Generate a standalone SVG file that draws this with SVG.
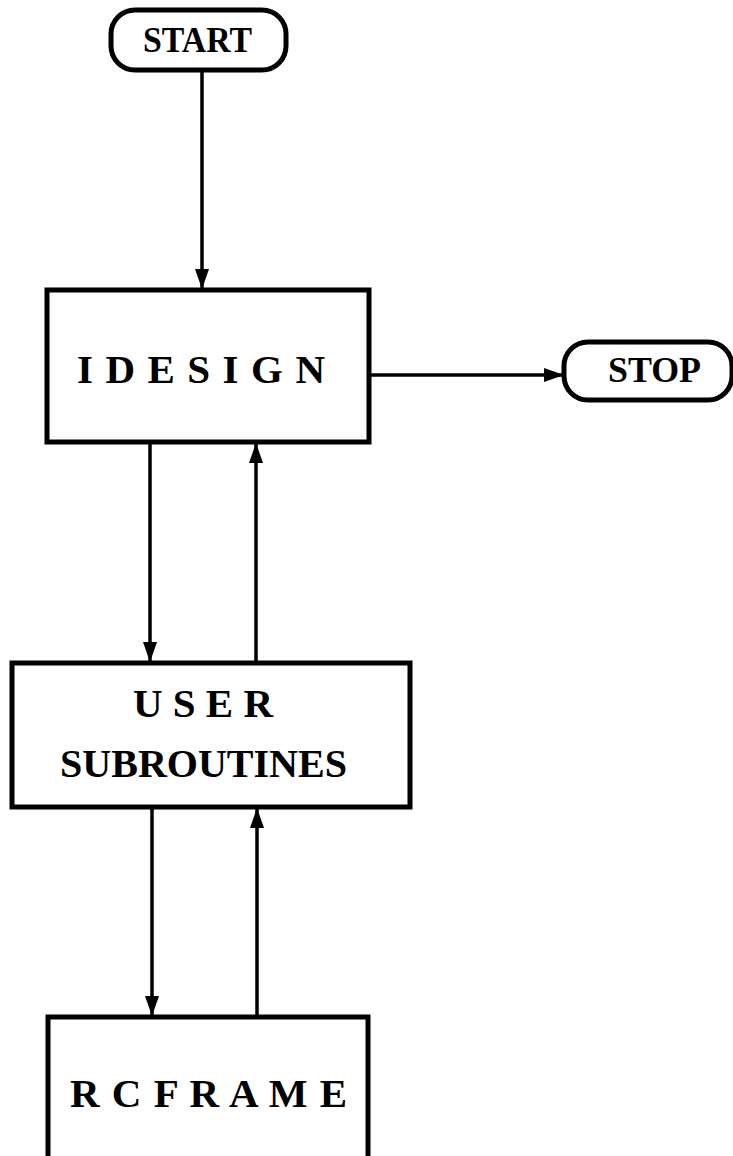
<svg xmlns="http://www.w3.org/2000/svg" width="733" height="1156" viewBox="0 0 733 1156">
<style>
  .box{fill:#fff;stroke:#000;stroke-width:5}
  .pill{fill:#fff;stroke:#000;stroke-width:5}
  .lbl{font-family:"Liberation Serif","Times New Roman",serif;font-weight:bold;fill:#000}
  .big{font-size:41px}
  .term{font-size:35px}
  .conn{stroke:#000;stroke-width:3.5;fill:none}
</style>
<defs>
  <marker id="ah" markerUnits="userSpaceOnUse" markerWidth="20" markerHeight="14" viewBox="0 0 20 14" refX="20" refY="7" orient="auto">
    <path d="M0,0 L20,7 L0,14 Z" fill="#000"/>
  </marker>
</defs>
<rect width="733" height="1156" fill="#fff"/>
<g id="connectors">
  <line class="conn" x1="202" y1="70" x2="202" y2="289" marker-end="url(#ah)"/>
  <line class="conn" x1="369" y1="375" x2="564" y2="375" marker-end="url(#ah)"/>
  <line class="conn" x1="150" y1="442" x2="150" y2="662" marker-end="url(#ah)"/>
  <line class="conn" x1="256" y1="663" x2="256" y2="443" marker-end="url(#ah)"/>
  <line class="conn" x1="152" y1="807" x2="152" y2="1016" marker-end="url(#ah)"/>
  <line class="conn" x1="257" y1="1017" x2="257" y2="808" marker-end="url(#ah)"/>
</g>
<g id="start">
  <rect class="pill" x="111" y="10" width="175" height="60" rx="24"/>
  <text class="lbl term" x="143" y="52" textLength="109" lengthAdjust="spacingAndGlyphs">START</text>
</g>
<g id="idesign">
  <rect class="box" x="47" y="290" width="322" height="152"/>
  <text class="lbl big" x="77" y="383" textLength="248" lengthAdjust="spacing">I D E S I G N</text>
</g>
<g id="stop">
  <rect class="pill" x="564" y="342" width="168" height="58" rx="24"/>
  <text class="lbl term" x="608" y="382" textLength="93" lengthAdjust="spacingAndGlyphs">STOP</text>
</g>
<g id="user-subroutines">
  <rect class="box" x="12" y="663" width="398" height="144"/>
  <text class="lbl big" x="133" y="717" textLength="140" lengthAdjust="spacing">U S E R</text>
  <text class="lbl big" x="60" y="777" textLength="287" lengthAdjust="spacingAndGlyphs">SUBROUTINES</text>
</g>
<g id="rcframe">
  <rect class="box" x="48" y="1017" width="320" height="160"/>
  <text class="lbl big" x="70" y="1107" textLength="277" lengthAdjust="spacing">R C F R A M E</text>
</g>
</svg>
